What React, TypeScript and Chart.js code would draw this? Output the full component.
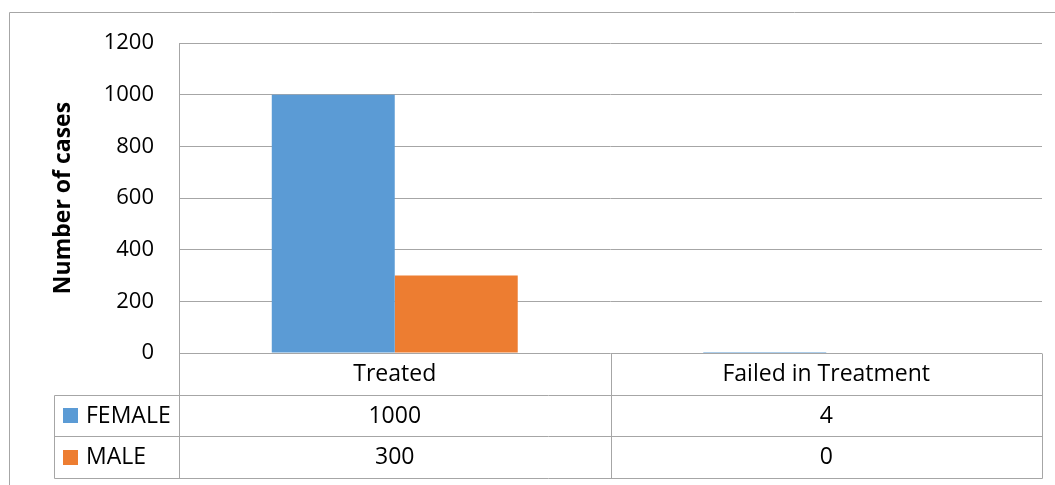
import React, { useEffect, useRef } from "react";
import { Chart, registerables } from "chart.js";

Chart.register(...registerables);

const categories = ["Treated", "Failed in Treatment"];
const femaleCases = [1000, 4];
const maleCases = [300, 0];
const seriesNames = ["FEMALE", "MALE"];
const seriesColors = ["#5B9BD5", "#ED7D31"];
const yTicks = [0, 200, 400, 600, 800, 1000, 1200];

const FONT = "'Open Sans', 'Noto Sans', sans-serif";
const LINE = "#A6A6A6";

// Draws the frame, the rotated axis title and the Excel-style data table under the plot.
const dataTablePlugin = {
  id: "dataTable",
  afterDraw(chart: any) {
    const ctx = chart.ctx as CanvasRenderingContext2D;
    const area = chart.chartArea;
    const x = chart.scales.x;
    const rows = [femaleCases, maleCases];
    const centers = categories.map((_, i) => x.getPixelForTick(i));
    const edges = [area.left, (centers[0] + centers[1]) / 2, area.right];
    const rowH = 41.5;
    const top = area.bottom;
    const keyLeft = 54;

    ctx.save();
    ctx.strokeStyle = LINE;
    ctx.lineWidth = 1;
    const line = (x1: number, y1: number, x2: number, y2: number) => {
      ctx.beginPath();
      ctx.moveTo(Math.round(x1) + 0.5, Math.round(y1) + 0.5);
      ctx.lineTo(Math.round(x2) + 0.5, Math.round(y2) + 0.5);
      ctx.stroke();
    };

    // outer frame
    line(9, 12, 1060, 12);
    line(9, 12, 9, 490);

    // table grid
    const bottom = top + rowH * 3;
    line(area.left, area.top, area.left, bottom);
    line(edges[1], top, edges[1], bottom);
    line(area.right, top, area.right, bottom);
    line(keyLeft, top + rowH, keyLeft, bottom);
    for (let r = 1; r <= 3; r++) {
      line(keyLeft, top + rowH * r, area.right, top + rowH * r);
    }

    ctx.fillStyle = "#000";
    ctx.font = `23px ${FONT}`;
    ctx.textBaseline = "middle";
    ctx.textAlign = "center";
    categories.forEach((c, i) => ctx.fillText(c, centers[i], top + rowH / 2 + 1));
    rows.forEach((vals, r) => {
      const cy = top + rowH * (r + 1) + rowH / 2 + 1;
      vals.forEach((v, i) => ctx.fillText(String(v), centers[i], cy));
      ctx.fillStyle = seriesColors[r];
      ctx.fillRect(63, Math.round(cy - 8), 15, 15);
      ctx.fillStyle = "#000";
      ctx.textAlign = "left";
      ctx.fillText(seriesNames[r], 86, cy);
      ctx.textAlign = "center";
    });

    // y axis title
    ctx.translate(63, (area.top + area.bottom) / 2);
    ctx.rotate(-Math.PI / 2);
    ctx.font = `bold 23px ${FONT}`;
    ctx.fillText("Number of cases", 0, 0);
    ctx.restore();
  },
};

export default function App() {
  const ref = useRef<HTMLCanvasElement>(null);

  useEffect(() => {
    document.body.style.margin = "0";
    const chart = new Chart(ref.current!, {
      type: "bar",
      data: {
        labels: categories,
        datasets: [
          { label: seriesNames[0], data: femaleCases, backgroundColor: seriesColors[0] },
          { label: seriesNames[1], data: maleCases, backgroundColor: seriesColors[1] },
        ],
      },
      options: {
        animation: false,
        responsive: false,
        devicePixelRatio: 1,
        layout: { padding: { left: 0, top: 43, right: 13, bottom: 132 } },
        datasets: { bar: { categoryPercentage: 0.57, barPercentage: 1, borderWidth: 0 } },
        plugins: { legend: { display: false }, tooltip: { enabled: false } },
        scales: {
          x: { display: false },
          y: {
            min: 0,
            max: 1200,
            afterFit: (s: any) => { s.width = 179; },
            afterBuildTicks: (s: any) => { s.ticks = yTicks.map((v) => ({ value: v })); },
            border: { display: false },
            grid: { color: LINE, drawTicks: false },
            ticks: {
              padding: 25,
              color: "#000",
              font: { family: FONT, size: 22 },
              callback: (v: any) => String(v),
            },
          },
        },
      },
      plugins: [dataTablePlugin],
    });
    return () => chart.destroy();
  }, []);

  return (
    <div style={{ width: 1055, height: 485 }}>
      <canvas ref={ref} width={1055} height={485} />
    </div>
  );
}
